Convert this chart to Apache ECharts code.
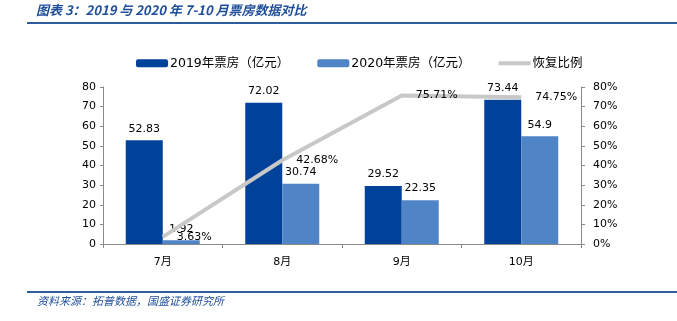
<!DOCTYPE html>
<html><head><meta charset="utf-8">
<script src="https://cdn.jsdelivr.net/npm/echarts@6/dist/echarts.min.js"></script>
<style>html,body{margin:0;padding:0;background:#fff}#c{width:677px;height:321px}</style>
</head><body><div id="c"></div>
<script>
const categories = ['7月','8月','9月','10月'];
const box2019 = [52.83, 72.02, 29.52, 73.44];
const box2020 = [1.92, 30.74, 22.35, 54.9];
const recovery = [3.63, 42.68, 75.71, 74.75];
const leftTicks = [0, 80, 10];
const rightTicks = [0, 80, 10];
const titleText = '图表 3：2019 与 2020 年 7-10 月票房数据对比';
const sourceText = '资料来源：拓普数据，国盛证券研究所';

const F = 'DejaVu Sans, Noto Sans CJK SC, sans-serif';
const chart = echarts.init(document.getElementById('c'));
chart.setOption({
  animation: false,
  textStyle: {fontFamily: F},
  graphic: [
    {type:'text', left:36, top:4, style:{text:titleText, fontFamily:'Noto Sans CJK SC', fontStyle:'italic', fontWeight:'bold', fontSize:13, fill:'#1F4E9A'}},
    {type:'line', shape:{x1:27,y1:23,x2:677,y2:23}, style:{stroke:'#2E5C9E', lineWidth:2}},
    {type:'line', shape:{x1:27,y1:292,x2:677,y2:292}, style:{stroke:'#2E5C9E', lineWidth:2}},
    {type:'text', left:37, top:295, style:{text:sourceText, fontFamily:'Noto Sans CJK SC', fontStyle:'italic', fontSize:11, fill:'#1F4E9A'}}
  ],
  legend: {
    top:57, left:136, padding:0, itemWidth:32, itemHeight:8, itemGap:28,
    textStyle:{fontSize:12.5, color:'#000', fontFamily:F, padding:[0,0,0,-3]},
    data:['2019年票房（亿元）','2020年票房（亿元）',
      {name:'恢复比例', icon:'path://M0,0 L32,0 L32,4 L0,4 Z', itemStyle:{color:'#C8C8C8'}}]
  },
  grid: {left:103, right:96, top:87, bottom:77, containLabel:false},
  xAxis: {
    type:'category', data:categories,
    axisLine:{lineStyle:{color:'#898989'}},
    axisTick:{show:true, length:4, lineStyle:{color:'#898989'}},
    axisLabel:{color:'#000', fontSize:11, margin:13}
  },
  yAxis: [
    {type:'value', min:leftTicks[0], max:leftTicks[1], interval:leftTicks[2],
     axisLine:{show:true, lineStyle:{color:'#898989'}},
     axisTick:{show:true, length:3, lineStyle:{color:'#898989'}},
     splitLine:{show:false},
     axisLabel:{color:'#000', fontSize:11, margin:7}},
    {type:'value', min:rightTicks[0], max:rightTicks[1], interval:rightTicks[2], position:'right',
     axisLine:{show:true, lineStyle:{color:'#898989'}},
     axisTick:{show:true, length:4, lineStyle:{color:'#898989'}},
     splitLine:{show:false},
     axisLabel:{color:'#000', fontSize:11, margin:12, formatter:'{value}%'}}
  ],
  series: [
    {name:'2019年票房（亿元）', type:'bar', data:box2019, barWidth:37, barGap:'0%',
     itemStyle:{color:'#00429A'},
     label:{show:true, position:'top', color:'#000', fontSize:11, distance:6}},
    {name:'2020年票房（亿元）', type:'bar', data:box2020, barWidth:37,
     itemStyle:{color:'#4F84C6'},
     label:{show:true, position:'top', color:'#000', fontSize:11, distance:6}},
    {name:'恢复比例', type:'line', yAxisIndex:1, data:recovery, symbol:'circle', symbolSize:0.1, showSymbol:true, z:5,
     lineStyle:{color:'#C8C8C8', width:4}, itemStyle:{color:'#C8C8C8'},
     label:{show:true, position:'right', distance:14, color:'#000', fontSize:11, formatter:'{c}%'}}
  ]
});
</script></body></html>
